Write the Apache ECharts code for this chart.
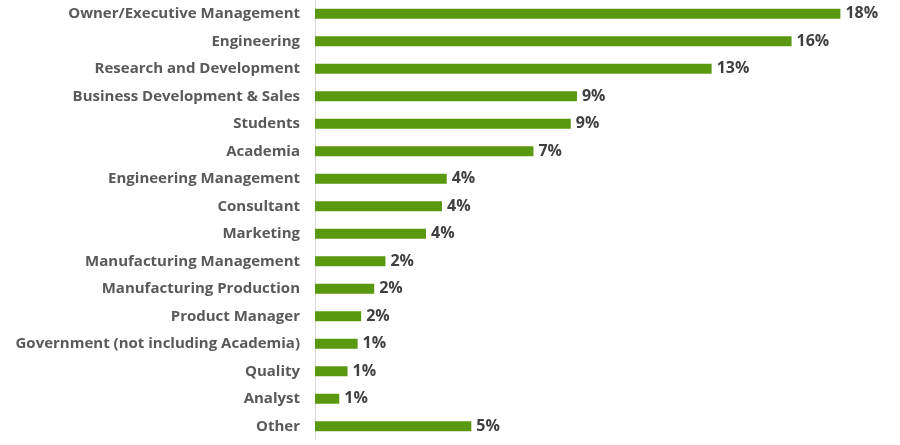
<!DOCTYPE html>
<html>
<head>
<meta charset="utf-8">
<script src="https://cdn.jsdelivr.net/npm/echarts@6/dist/echarts.min.js"></script>
<style>
html,body{margin:0;padding:0;background:#fff;}
#chart{width:900px;height:445px;}
</style>
</head>
<body>
<div id="chart"></div>
<script>
var categories = [
  "Owner/Executive Management",
  "Engineering",
  "Research and Development",
  "Business Development & Sales",
  "Students",
  "Academia",
  "Engineering Management",
  "Consultant",
  "Marketing",
  "Manufacturing Management",
  "Manufacturing Production",
  "Product Manager",
  "Government (not including Academia)",
  "Quality",
  "Analyst",
  "Other"
];
var values = [17.75, 16.1, 13.4, 8.85, 8.64, 7.38, 4.45, 4.29, 3.75, 2.38, 2.0, 1.56, 1.44, 1.1, 0.82, 5.28];
var valueLabels = ["18%","16%","13%","9%","9%","7%","4%","4%","4%","2%","2%","2%","1%","1%","1%","5%"];

var chart = echarts.init(document.getElementById('chart'));
chart.setOption({
  animation: false,
  grid: { left: 315, top: 0, width: 562.4, bottom: 5, containLabel: false },
  xAxis: {
    type: 'value', min: 0, max: 19,
    show: false
  },
  yAxis: {
    type: 'category',
    data: categories,
    inverse: true,
    axisLine: { show: true, lineStyle: { color: '#d9d9d9', width: 1 } },
    axisTick: { show: false },
    axisLabel: {
      margin: 15,
      color: '#595959',
      fontFamily: 'Open Sans',
      fontWeight: 'bold',
      fontSize: 15
    }
  },
  series: [{
    type: 'bar',
    data: values,
    barWidth: 10,
    itemStyle: { color: '#5a9810' },
    label: {
      show: true,
      position: 'right',
      distance: 5,
      color: '#404040',
      fontFamily: 'Open Sans',
      fontWeight: 'bold',
      fontSize: 16,
      formatter: function (p) { return valueLabels[p.dataIndex]; }
    }
  }]
});
</script>
</body>
</html>
